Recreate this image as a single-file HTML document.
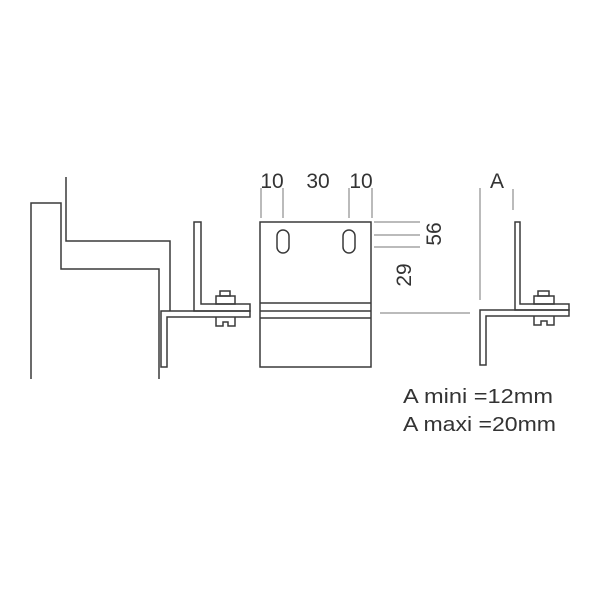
<!DOCTYPE html>
<html><head><style>
html,body{margin:0;padding:0;background:#fff;}
svg{display:block;}
text{font-family:"Liberation Sans",sans-serif;fill:#333;}
</style></head><body>
<svg width="600" height="600" viewBox="0 0 600 600" xmlns="http://www.w3.org/2000/svg">
<g fill="none" stroke="#3a3a3a" stroke-width="1.5">
<polyline points="31,379 31,203 61,203 61,269 159,269 159,379"/>
<polyline points="66,177 66,241 170,241 170,311"/>
<polygon points="161,311 250,311 250,317 167,317 167,367 161,367"/>
<polygon points="194,222 201,222 201,304 250,304 250,311 194,311"/>
<rect x="216" y="296" width="19" height="8"/>
<rect x="220" y="291" width="10" height="5"/>
<path d="M216,317 V326 H223 V322 H228 V326 H235 V317"/>
<rect x="260" y="222" width="111" height="145"/>
<line x1="260" y1="303" x2="371" y2="303"/>
<line x1="260" y1="311" x2="371" y2="311"/>
<line x1="260" y1="318" x2="371" y2="318"/>
<rect x="277" y="230" width="12" height="23" rx="6"/>
<rect x="343" y="230" width="12" height="23" rx="6"/>
<polygon points="515,222 520,222 520,304 569,304 569,310 515,310"/>
<polygon points="480,310 569,310 569,316 486,316 486,365 480,365"/>
<rect x="534" y="296" width="20" height="8"/>
<rect x="538" y="291" width="11" height="5"/>
<path d="M534,316 V325 H541 V321 H547 V325 H554 V316"/>
</g>
<g stroke="#777" stroke-width="1" fill="none">
<line x1="261" y1="188" x2="261" y2="218"/>
<line x1="283" y1="188" x2="283" y2="218"/>
<line x1="349" y1="188" x2="349" y2="218"/>
<line x1="372" y1="188" x2="372" y2="218"/>
<line x1="374" y1="222" x2="420" y2="222"/>
<line x1="374" y1="235" x2="420" y2="235"/>
<line x1="374" y1="247" x2="420" y2="247"/>
<line x1="380" y1="313" x2="470" y2="313"/>
<line x1="480" y1="188" x2="480" y2="300"/>
<line x1="513" y1="189" x2="513" y2="210"/>
</g>
<g font-size="21">
<text x="272" y="188" text-anchor="middle">10</text>
<text x="318" y="188" text-anchor="middle">30</text>
<text x="361" y="188" text-anchor="middle">10</text>
<text x="497" y="188" text-anchor="middle">A</text>
<text transform="translate(441,234) rotate(-90)" text-anchor="middle">56</text>
<text transform="translate(411,275) rotate(-90)" text-anchor="middle">29</text>
</g>
<g font-size="20">
<text x="403" y="403" textLength="150" lengthAdjust="spacingAndGlyphs">A mini =12mm</text>
<text x="403" y="431" textLength="153" lengthAdjust="spacingAndGlyphs">A maxi =20mm</text>
</g>
</svg>
</body></html>
